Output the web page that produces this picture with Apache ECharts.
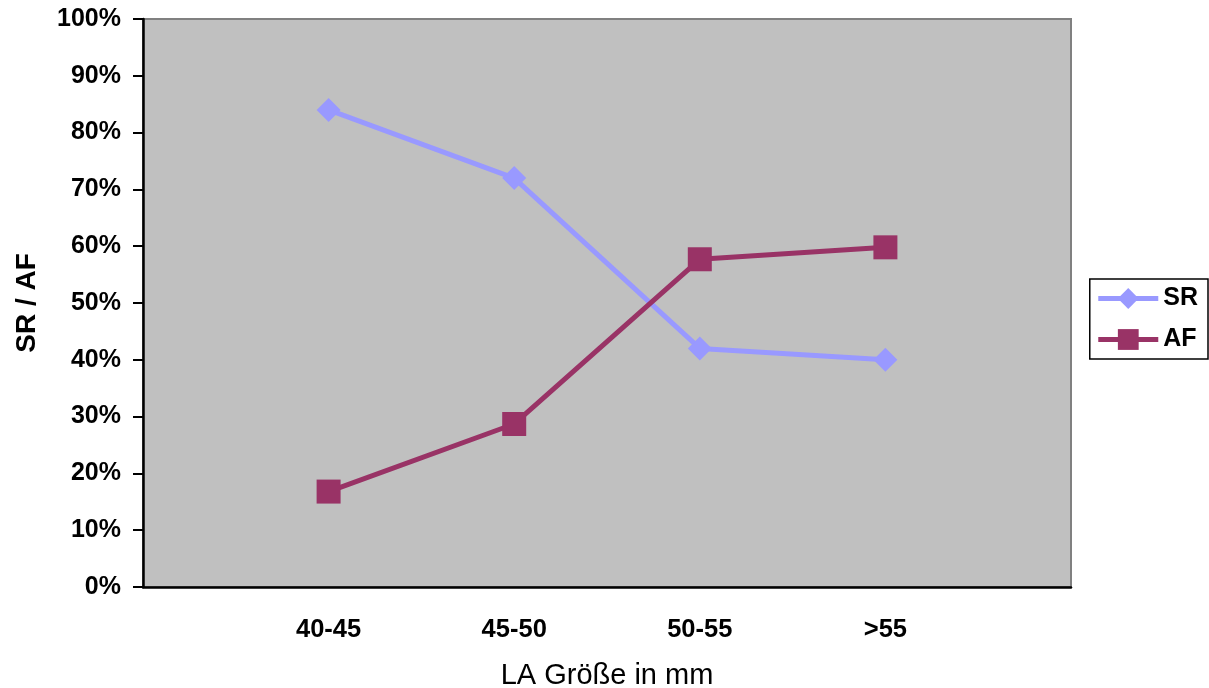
<!DOCTYPE html>
<html>
<head>
<meta charset="utf-8">
<script src="https://cdn.jsdelivr.net/npm/echarts@6/dist/echarts.min.js"></script>
<style>
html,body{margin:0;padding:0;background:#fff;}
#chart{width:1209px;height:688px;}
</style>
</head>
<body>
<div id="chart"></div>
<script>
const categories = ['40-45', '45-50', '50-55', '>55'];
const srValues = [84, 72, 42, 40];
const afValues = [16.8, 28.7, 57.7, 59.8];
const yTickLabels = ['0%','10%','20%','30%','40%','50%','60%','70%','80%','90%','100%'];

const padCats = [''].concat(categories, ['']);
const padSR = [null].concat(srValues, [null]);
const padAF = [null].concat(afValues, [null]);

const FONT = '"Liberation Sans", Arial, sans-serif';
const chart = echarts.init(document.getElementById('chart'), null, {renderer: 'canvas'});
chart.setOption({
  animation: false,
  backgroundColor: '#ffffff',
  grid: {
    left: 143, right: 138, top: 19, bottom: 101,
    outerBoundsMode: 'none',
    containLabel: false,
    show: true, backgroundColor: '#C0C0C0', borderColor: '#808080', borderWidth: 2
  },
  legend: {
    right: 1, top: 279,
    orient: 'vertical',
    data: ['SR', 'AF'],
    itemWidth: 60, itemHeight: 26, itemGap: 16,
    itemTextGap: 3,
    padding: [7, 10, 7, 6],
    borderColor: '#000', borderWidth: 1.5,
    backgroundColor: '#fff',
    lineStyle: {width: 5},
    textStyle: {fontFamily: FONT, fontWeight: 'bold', fontSize: 25, color: '#000', padding: [0, 0, 0, 0]}
  },
  xAxis: {
    type: 'category',
    data: padCats,
    boundaryGap: false,
    name: 'LA Größe in mm',
    nameLocation: 'middle',
    nameGap: 74,
    nameTextStyle: {fontFamily: FONT, fontSize: 29, color: '#000'},
    axisLine: {lineStyle: {color: '#000', width: 2.5}},
    axisTick: {show: false},
    axisLabel: {fontFamily: FONT, fontWeight: 'bold', fontSize: 25.5, color: '#000', margin: 30, interval: 0},
    splitLine: {show: false}
  },
  yAxis: {
    type: 'value',
    min: 0, max: 100, interval: 10,
    name: 'SR / AF',
    nameLocation: 'middle',
    nameGap: 102,
    nameRotate: 90,
    nameTextStyle: {fontFamily: FONT, fontWeight: 'bold', fontSize: 28, color: '#000'},
    axisLine: {show: true, lineStyle: {color: '#000', width: 2.5}},
    axisTick: {show: true, inside: false, length: 10, lineStyle: {color: '#000', width: 2}},
    axisLabel: {
      fontFamily: FONT, fontWeight: 'bold', fontSize: 25, color: '#000', margin: 22,
      formatter: function (v) { return yTickLabels[Math.round(v / 10)]; }
    },
    splitLine: {show: false}
  },
  series: [
    {
      name: 'SR', type: 'line', data: padSR,
      symbol: 'diamond', symbolSize: 24,
      lineStyle: {color: '#9999FF', width: 5},
      itemStyle: {color: '#9999FF'}
    },
    {
      name: 'AF', type: 'line', data: padAF,
      symbol: 'rect', symbolSize: 24,
      lineStyle: {color: '#993366', width: 5},
      itemStyle: {color: '#993366'}
    }
  ]
});
</script>
</body>
</html>
